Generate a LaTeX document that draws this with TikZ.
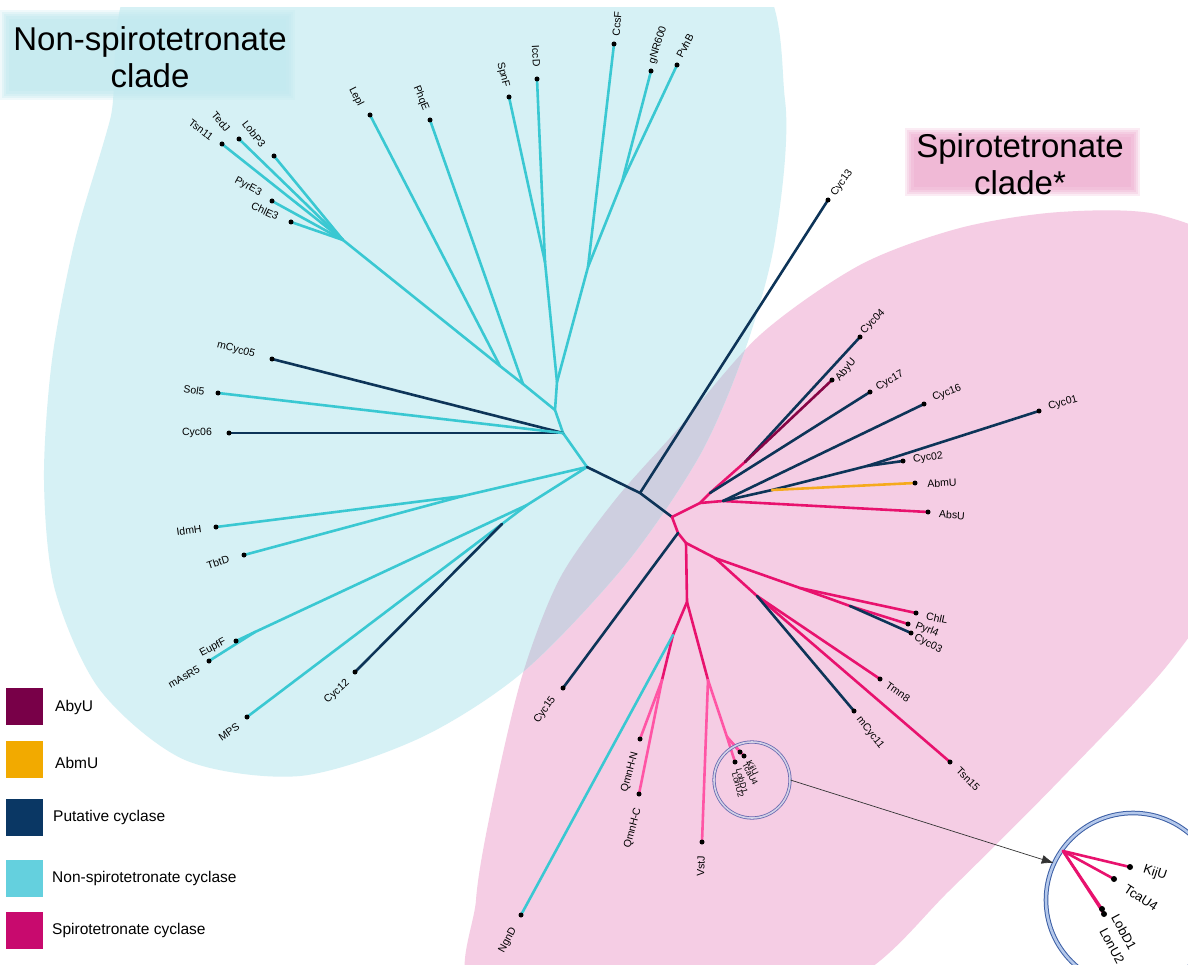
\documentclass[tikz,border=0pt]{standalone}
\usepackage{fontspec}
\setmainfont{Liberation Sans}
\usetikzlibrary{arrows.meta}
\definecolor{bgcyan}{RGB}{214,241,245}
\definecolor{bgpink}{RGB}{245,205,228}
\definecolor{bgover}{RGB}{206,207,224}
\definecolor{tcyan}{RGB}{196,234,240}
\definecolor{tpink}{RGB}{240,180,212}
\definecolor{cyline}{RGB}{58,200,210}
\definecolor{dkline}{RGB}{13,52,88}
\definecolor{pkline}{RGB}{232,18,110}
\definecolor{hpline}{RGB}{255,85,165}
\definecolor{mrline}{RGB}{135,5,70}
\definecolor{orline}{RGB}{245,170,30}
\definecolor{lgaby}{RGB}{120,0,72}
\definecolor{lgabm}{RGB}{242,170,0}
\definecolor{lgput}{RGB}{10,55,100}
\definecolor{lgnon}{RGB}{100,208,222}
\definecolor{lgspi}{RGB}{200,10,110}
\definecolor{scol}{RGB}{105,105,175}
\definecolor{bcol}{RGB}{60,95,165}
\definecolor{bcin}{RGB}{180,200,235}
\newcommand\cyanshape{plot[smooth cycle] coordinates {(150,-40) (450,-70) (740,-40) (785,100) (775,240) (745,350) (700,455) (625,565) (523,672) (420,738) (300,776) (185,760) (100,690) (55,590) (44,480) (52,360) (75,240) (110,120)}}
\newcommand\pinkshape{plot[smooth cycle] coordinates {(760,335) (860,265) (960,228) (1060,212) (1160,215) (1240,260) (1262,400) (1232,560) (1170,662) (1060,780) (950,890) (860,975) (700,1040) (480,1000) (476,900) (495,790) (523,673) (560,578) (615,500) (677,430)}}
\tikzset{
  cy/.style={draw=cyline,line width=2.6pt,line cap=round},
  dk/.style={draw=dkline,line width=2.6pt,line cap=round},
  pk/.style={draw=pkline,line width=2.6pt,line cap=round},
  hp/.style={draw=hpline,line width=2.6pt,line cap=round},
  mr/.style={draw=mrline,line width=2.6pt,line cap=round},
  orl/.style={draw=orline,line width=2.6pt,line cap=round},
  lab/.style={font=\fontsize{10.5}{12}\selectfont,inner sep=0pt},
  ilab/.style={font=\fontsize{13}{14}\selectfont,inner sep=0pt},
  slab/.style={font=\fontsize{8.5}{9}\selectfont,inner sep=0pt},
  leg/.style={font=\fontsize{15.5}{17}\selectfont,inner sep=0pt,anchor=west},
  title/.style={font=\fontsize{33}{37}\selectfont,align=center,inner sep=0pt},
  legbox/.style={minimum width=37pt,minimum height=37pt,inner sep=0pt,draw=none}
}
\begin{document}
\begin{tikzpicture}[x=1pt,y=-1pt]
\useasboundingbox (0,0) rectangle (1188,965);
\fill[white] (0,0) rectangle (1188,965);
% backgrounds
\begin{scope}
\clip (0,8) rectangle (1188,965);
\fill[bgpink] \pinkshape;
\fill[bgcyan] \cyanshape;
\begin{scope}
\clip \cyanshape;
\fill[bgover] \pinkshape;
\end{scope}
\end{scope}
% title boxes (soft edges)
\foreach \d/\o in {0/0.25,2/0.3,4/0.35,6/0.45,9/0.6}{
  \fill[tcyan,opacity=\o] (\d,10+\d) rectangle (295-\d,100-\d);
  \fill[tpink,opacity=\o] (905+\d,128+\d) rectangle (1140-\d,196-\d);
}
\node[title] (tnon) at (150,57) {Non-spirotetronate\\clade};
\node[title] (tspi) at (1020,164) {Spirotetronate\\clade*};

% ---------- coordinates ----------
% cyan internal
\coordinate (R1) at (587,467);
\coordinate (nM) at (563,433);
\coordinate (nU) at (555,410);
\coordinate (nV) at (557,382);
\coordinate (nSI) at (545,262);
\coordinate (nC) at (588,267);
\coordinate (gP) at (622,182);
\coordinate (nP) at (523,384);
\coordinate (nL) at (500,366);
\coordinate (n5) at (343,240);
\coordinate (nIT) at (463,496);
\coordinate (nLow) at (527,505);
\coordinate (nMC) at (502,524);
\coordinate (nEM) at (255,632);
% cyan tips
\coordinate (tTsn11) at (222,144);
\coordinate (tTedJ) at (239,139);
\coordinate (tLobP3) at (274,156);
\coordinate (tPyrE3) at (272,201);
\coordinate (tChlE3) at (291,222);
\coordinate (tLepl) at (370,115);
\coordinate (tPhqE) at (430,120);
\coordinate (tSpnF) at (509,97);
\coordinate (tIccD) at (537,79);
\coordinate (tCcsF) at (614,44);
\coordinate (tgNR) at (651,71);
\coordinate (tPvhB) at (677,65);
\coordinate (tmCyc05) at (272,359);
\coordinate (tSol5) at (218,393);
\coordinate (tCyc06) at (229,433);
\coordinate (tIdmH) at (216,527);
\coordinate (tTbtD) at (244,555);
\coordinate (tEupfF) at (236,641);
\coordinate (tmAsR5) at (209,661);
\coordinate (tMPS) at (247,717);
\coordinate (tCyc12) at (355,672);
% dark centre
\coordinate (c13) at (640,493);
\coordinate (R2) at (672,517);
\coordinate (tCyc13) at (828,200);
% pink internal
\coordinate (nQ) at (678,533);
\coordinate (nR) at (686,543);
\coordinate (nB0) at (700,503);
\coordinate (nP1) at (710,493);
\coordinate (nA1) at (745,462);
\coordinate (nB) at (723,501);
\coordinate (nD) at (772,490);
\coordinate (n12) at (867,466);
\coordinate (nS) at (715,558);
\coordinate (nT) at (757,596);
\coordinate (nC3) at (800,588);
\coordinate (nPC3) at (850,606);
\coordinate (nW) at (687,602);
\coordinate (nX) at (673,635);
\coordinate (nY) at (662,680);
\coordinate (nZ) at (708,680);
\coordinate (nK) at (727,737);
% pink tips
\coordinate (tCyc15) at (563,688);
\coordinate (tCyc04) at (860,337);
\coordinate (tAbyU) at (832,380);
\coordinate (tCyc17) at (870,392);
\coordinate (tCyc16) at (924,404);
\coordinate (tCyc01) at (1039,411);
\coordinate (tCyc02) at (903,461);
\coordinate (tAbmU) at (915,483);
\coordinate (tAbsU) at (928,512);
\coordinate (tChlL) at (916,613);
\coordinate (tPyrl4) at (908,624);
\coordinate (tCyc03) at (911,633);
\coordinate (tTmn8) at (880,679);
\coordinate (tmCyc11) at (854,711);
\coordinate (tTsn15) at (950,762);
\coordinate (tNgnD) at (521,915);
\coordinate (tQN) at (640,739);
\coordinate (tQC) at (639,794);
\coordinate (tVstJ) at (702,842);
\coordinate (tK1) at (735,762);
\coordinate (tK2) at (740,752);
\coordinate (tK3) at (744,756);

% ---------- branches ----------
% cyan clade
\foreach \t in {tTsn11,tTedJ,tLobP3,tPyrE3,tChlE3}{\draw[cy] (\t) -- (n5);}
\draw[cy] (n5) -- (nL) -- (nP) -- (nU);
\draw[cy] (tLepl) -- (nL);
\draw[cy] (tPhqE) -- (nP);
\draw[cy] (tSpnF) -- (nSI);
\draw[cy] (tIccD) -- (nSI);
\draw[cy] (nSI) -- (nV);
\draw[cy] (tCcsF) -- (nC);
\draw[cy] (tgNR) -- (gP);
\draw[cy] (tPvhB) -- (gP);
\draw[cy] (gP) -- (nC) -- (nV) -- (nU) -- (nM) -- (R1);
\draw[dk] (tmCyc05) -- (nM);
\draw[dk] (tCyc06) -- (nM);
\draw[cy] (tSol5) -- (nM);
\draw[cy] (tIdmH) -- (nIT);
\draw[cy] (tTbtD) -- (nIT);
\draw[cy] (nIT) -- (R1);
\draw[cy] (tEupfF) -- (nEM);
\draw[cy] (tmAsR5) -- (nEM);
\draw[cy] (nEM) -- (nLow);
\draw[cy] (tMPS) -- (nMC) -- (nLow) -- (R1);
\draw[dk] (tCyc12) -- (nMC);
% centre
\draw[dk] (R1) -- (c13) -- (R2);
\draw[dk] (c13) -- (tCyc13);
% spiro clade upper
\draw[pk] (R2) -- (nB0) -- (nP1) -- (nA1);
\draw[dk] (nA1) -- (tCyc04);
\draw[mr] (nA1) -- (tAbyU);
\draw[dk] (nP1) -- (tCyc17);
\draw[pk] (nB0) -- (nB) -- (tAbsU);
\draw[dk] (nB) -- (tCyc16);
\draw[dk] (nB) -- (nD) -- (n12) -- (tCyc01);
\draw[dk] (n12) -- (tCyc02);
\draw[orl] (nD) -- (tAbmU);
% spiro clade lower
\draw[pk] (R2) -- (nQ) -- (nR);
\draw[dk] (nQ) -- (tCyc15);
\draw[pk] (nR) -- (nS) -- (nC3) -- (tChlL);
\draw[pk] (nC3) -- (nPC3) -- (tPyrl4);
\draw[dk] (nPC3) -- (tCyc03);
\draw[pk] (nS) -- (nT);
\draw[pk] (nT) -- (tTmn8);
\draw[pk] (nT) -- (tTsn15);
\draw[dk] (nT) -- (tmCyc11);
\draw[pk] (nR) -- (nW) -- (nX) -- (nY);
\draw[cy] (nX) -- (tNgnD);
\draw[hp] (nY) -- (tQN);
\draw[hp] (nY) -- (tQC);
\draw[pk] (nW) -- (nZ);
\draw[hp] (nZ) -- (tVstJ);
\draw[hp] (nZ) -- (nK);
\draw[hp] (nK) -- (tK1);
\draw[hp] (nK) -- (tK2);
\draw[hp] (nK) -- (tK3);

% tip dots
\foreach \t in {tTsn11,tTedJ,tLobP3,tPyrE3,tChlE3,tLepl,tPhqE,tSpnF,tIccD,tCcsF,tgNR,tPvhB,tmCyc05,tSol5,tCyc06,tIdmH,tTbtD,tEupfF,tmAsR5,tMPS,tCyc12,tCyc13,tCyc15,tCyc04,tAbyU,tCyc17,tCyc16,tCyc01,tCyc02,tAbmU,tAbsU,tChlL,tPyrl4,tCyc03,tTmn8,tmCyc11,tTsn15,tNgnD,tQN,tQC,tVstJ,tK1,tK2,tK3}{\fill[black] (\t) circle (2.5);}

% ---------- labels ----------
\node[lab,rotate=-37] (lTsn11) at (201,130) {Tsn11};
\node[lab,rotate=-50] (lTedJ) at (221,122) {TedJ};
\node[lab,rotate=-52] (lLobP3) at (254,134) {LobP3};
\node[lab,rotate=-28] (lPyrE3) at (248,187) {PyrE3};
\node[lab,rotate=-25] (lChlE3) at (265,211) {ChlE3};
\node[lab,rotate=-63] (lLepl) at (356,97) {Lepl};
\node[lab,rotate=-68] (lPhqE) at (421,98) {PhqE};
\node[lab,rotate=-76] (lSpnF) at (503,75) {SpnF};
\node[lab,rotate=-87] (lIccD) at (536,56) {IccD};
\node[lab,rotate=85] (lCcsF) at (617,24) {CcsF};
\node[lab,rotate=72] (lgNR) at (658,45) {gNR600};
\node[lab,rotate=62] (lPvhB) at (685,46) {PvhB};
\node[lab,rotate=-15] (lmCyc05) at (236,350) {mCyc05};
\node[lab,rotate=-8] (lSol5) at (194,390) {Sol5};
\node[lab] (lCyc06) at (197,433) {Cyc06};
\node[lab,rotate=8] (lIdmH) at (189,530) {IdmH};
\node[lab,rotate=18] (lTbtD) at (218,562) {TbtD};
\node[lab,rotate=28] (lEupfF) at (213,648) {EupfF};
\node[lab,rotate=30] (lmAsR5) at (184,677) {mAsR5};
\node[lab,rotate=35] (lMPS) at (229,732) {MPS};
\node[lab,rotate=42] (lCyc12) at (337,692) {Cyc12};
\node[lab,rotate=55] (lCyc13) at (842,183) {Cyc13};
\node[lab,rotate=45] (lCyc04) at (873,322) {Cyc04};
\node[lab,rotate=50] (lAbyU) at (846,370) {AbyU};
\node[lab,rotate=30] (lCyc17) at (890,381) {Cyc17};
\node[lab,rotate=22] (lCyc16) at (947,393) {Cyc16};
\node[lab,rotate=15] (lCyc01) at (1063,403) {Cyc01};
\node[lab,rotate=8] (lCyc02) at (928,458) {Cyc02};
\node[lab,rotate=3] (lAbmU) at (942,483) {AbmU};
\node[lab,rotate=-4] (lAbsU) at (952,515) {AbsU};
\node[lab,rotate=-12] (lChlL) at (937,618) {ChlL};
\node[lab,rotate=-22] (lPyrl4) at (927,630) {Pyrl4};
\node[lab,rotate=-28] (lCyc03) at (928,644) {Cyc03};
\node[lab,rotate=-35] (lTmn8) at (898,692) {Tmn8};
\node[lab,rotate=-52] (lmCyc11) at (870,733) {mCyc11};
\node[lab,rotate=-45] (lTsn15) at (968,779) {Tsn15};
\node[lab,rotate=55] (lCyc15) at (545,710) {Cyc15};
\node[lab,rotate=75] (lQN) at (630,772) {QmnH-N};
\node[lab,rotate=75] (lQC) at (633,828) {QmnH-C};
\node[lab,rotate=88] (lVstJ) at (701,866) {VstJ};
\node[lab,rotate=62] (lNgnD) at (508,940) {NgnD};
% labels in the small circle
\node[slab,rotate=-62] (sK) at (752,768) {KijU};
\node[slab,rotate=-62] (sT) at (750,774) {TcaU4};
\node[slab,rotate=-75] (sL1) at (742,781) {LobD1};
\node[slab,rotate=-75] (sL2) at (738,785) {LonU2};

% ---------- circles and zoom arrow ----------
\node[circle,minimum size=76pt,inner sep=0pt,draw=scol,line width=0.8pt,double=scol!30!white,double distance=1.6pt] (sc) at (752,780) {};
\node[circle,minimum size=174pt,inner sep=0pt,fill=white,draw=bcol,line width=1pt,double=bcin,double distance=2.6pt] (bc) at (1133,900) {};
\draw[-{Latex[length=12pt,width=9pt]},line width=0.7pt,black!80] (sc.east) -- (bc.155);
% inset tree
\coordinate (iO) at (1063,851);
\coordinate (iK) at (1130,867);
\coordinate (iT) at (1114,879);
\coordinate (iL1) at (1102,909);
\coordinate (iL2) at (1104,914);
\draw[pk] (iO) -- (iK);
\draw[pk] (iO) -- (iT);
\draw[pk] (iO) -- (iL1);
\draw[pk] (iO) -- (iL2);
\foreach \t in {iK,iT,iL1,iL2}{\fill[black] (\t) circle (3);}
\node[ilab,rotate=-18] (iKl) at (1155,873) {KijU};
\node[ilab,rotate=-33] (iTl) at (1141,898) {TcaU4};
\node[ilab,rotate=-62] (iL1l) at (1124,932) {LobD1};
\node[ilab,rotate=-62] (iL2l) at (1112,946) {LonU2};

% ---------- legend ----------
\node[legbox,fill=lgaby] (g1) at (24.5,706.5) {};
\node[legbox,fill=lgabm] (g2) at (24.5,759.5) {};
\node[legbox,fill=lgput] (g3) at (24.5,817) {};
\node[legbox,fill=lgnon] (g4) at (24.5,878) {};
\node[legbox,fill=lgspi] (g5) at (24.5,930.5) {};
\node[leg] (g1t) at (55,707) {AbyU};
\node[leg] (g2t) at (55,763) {AbmU};
\node[leg] (g3t) at (53,817) {Putative cyclase};
\node[leg] (g4t) at (52,878) {Non-spirotetronate cyclase};
\node[leg] (g5t) at (52,930) {Spirotetronate cyclase};
\end{tikzpicture}
\end{document}
